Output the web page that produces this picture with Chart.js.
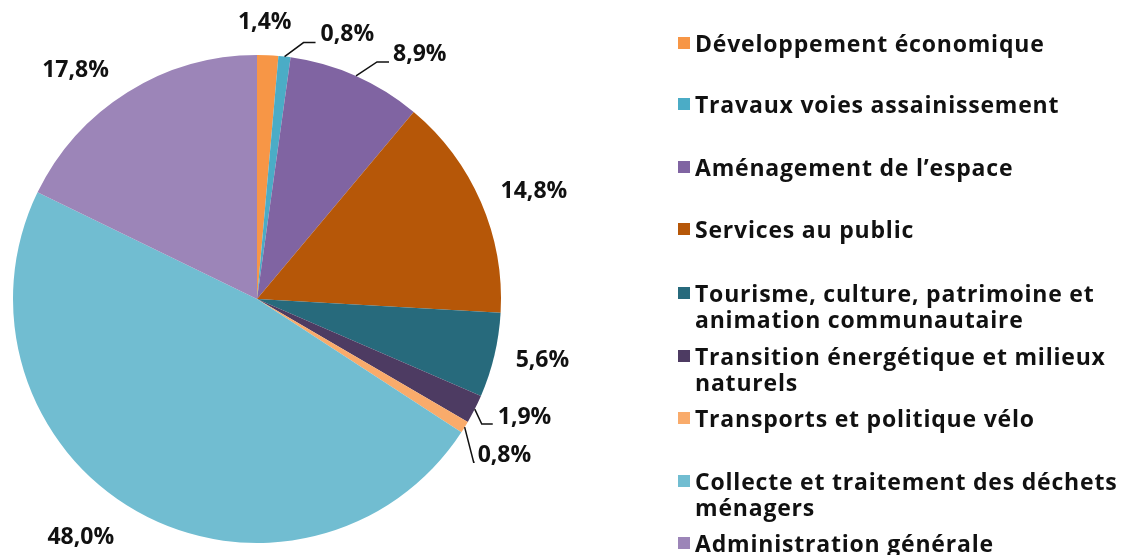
<!DOCTYPE html>
<html lang="fr">
<head>
<meta charset="utf-8">
<script src="https://cdn.jsdelivr.net/npm/chart.js@4/dist/chart.umd.min.js"></script>
<style>
    html, body { margin: 0; padding: 0; background: #fff; }
    #wrap { position: relative; width: 1122px; height: 555px; overflow: hidden; }
    #pie { position: absolute; left: 0; top: 0; }
    .item {
        position: absolute;
        left: 678px;
        font-family: "Open Sans", sans-serif;
        font-weight: 700;
        font-size: 23px;
        line-height: 26px;
        color: #111;
        letter-spacing: 0.8px;
        white-space: nowrap;
    }
    .item .box {
        position: absolute;
        left: 0;
        top: 7px;
        width: 12px;
        height: 12px;
    }
    .item .txt { margin-left: 17px; display: block; }
</style>
</head>
<body>
<div id="wrap">
    <canvas id="pie" width="1122" height="555"></canvas>
    <div id="legend"></div>
</div>
<script>
// Data
const categories = [
    'Développement économique',
    'Travaux voies assainissement',
    'Aménagement de l\u2019espace',
    'Services au public',
    'Tourisme, culture, patrimoine et\nanimation communautaire',
    'Transition énergétique et milieux\nnaturels',
    'Transports et politique vélo',
    'Collecte et traitement des déchets\nménagers',
    'Administration générale'
];
const shares = [1.4, 0.8, 8.9, 14.8, 5.6, 1.9, 0.8, 48.0, 17.8];
const colors = ['#F79646', '#4BACC6', '#8064A2', '#B65708', '#276A7C', '#4D3B62', '#F9AB6B', '#71BDD1', '#9C85B8'];

// Label placement relative to the point on the slice edge (style only)
const labelOffsets = [
    { dx: -3, dy: -33 },
    { dx: 36, dy: -22, align: 'left', leader: [[19, -14], [31, -14]] },
    { dx: 37, dy: -22, align: 'left', leader: [[21, -14], [33, -14]] },
    { dx: 53, dy: -11 },
    { dx: 48, dy: 5 },
    { dx: 23, dy: 8, align: 'left', leader: [[7, 15], [18, 15]] },
    { dx: 13, dy: 28, align: 'left', leader: [[9, 35], [10, 35]] },
    { dx: -56, dy: 26 },
    { dx: -52, dy: -22 }
];

// Legend first-line vertical centres (layout only)
const legendTops = [43, 104, 167, 229, 293, 356, 418, 481, 543];

function fmt(v) {
    return v.toFixed(1).replace('.', ',') + '%';
}

const labelPlugin = {
    id: 'sliceLabels',
    afterDatasetsDraw(chart) {
        const ctx = chart.ctx;
        const meta = chart.getDatasetMeta(0);
        ctx.save();
        ctx.font = '700 23px "Open Sans", sans-serif';
        ctx.fillStyle = '#111';
        ctx.strokeStyle = '#111';
        ctx.lineWidth = 1.5;
        ctx.textBaseline = 'middle';
        meta.data.forEach((arc, i) => {
            const mid = (arc.startAngle + arc.endAngle) / 2;
            const ex = arc.x + Math.cos(mid) * arc.outerRadius;
            const ey = arc.y + Math.sin(mid) * arc.outerRadius;
            const o = labelOffsets[i];
            if (o.leader) {
                ctx.beginPath();
                ctx.moveTo(ex, ey);
                o.leader.forEach(p => ctx.lineTo(ex + p[0], ey + p[1]));
                ctx.stroke();
            }
            ctx.textAlign = o.align || 'center';
            ctx.fillText(fmt(shares[i]), ex + o.dx, ey + o.dy);
        });
        ctx.restore();
    }
};

const chart = new Chart(document.getElementById('pie').getContext('2d'), {
    type: 'pie',
    data: {
        labels: categories,
        datasets: [{
            data: shares,
            backgroundColor: colors,
            borderWidth: 0
        }]
    },
    options: {
        responsive: false,
        animation: false,
        layout: { padding: { left: 13, right: 621, top: 55, bottom: 12 } },
        plugins: {
            legend: { display: false },
            tooltip: { enabled: false }
        }
    },
    plugins: [labelPlugin]
});

// HTML legend
const legend = document.getElementById('legend');
categories.forEach((name, i) => {
    const div = document.createElement('div');
    div.className = 'item';
    div.style.top = (legendTops[i] - 13) + 'px';
    const box = document.createElement('span');
    box.className = 'box';
    box.style.background = colors[i];
    const txt = document.createElement('span');
    txt.className = 'txt';
    txt.innerHTML = name.split('\n').join('<br>');
    div.appendChild(box);
    div.appendChild(txt);
    legend.appendChild(div);
});
</script>
</body>
</html>
